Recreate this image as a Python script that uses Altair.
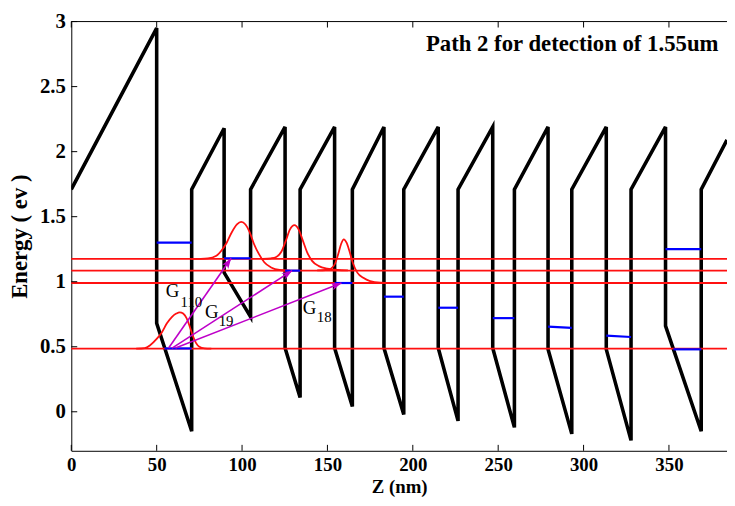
import math
import altair as alt
import pandas as pd

# ---------------- data ----------------
# conduction-band profile (z in nm, energy in eV)
profile_z = [0, 50, 50, 70.5, 70.5, 89.5, 89.5, 105, 105, 125.2, 125.2, 134, 134,
             154.2, 154.2, 164.6, 164.6, 183.1, 183.1, 194.7, 194.7, 214.9, 214.9,
             226.5, 226.5, 246.8, 246.8, 259.5, 259.5, 279.2, 279.2, 293.1, 293.1,
             313.3, 313.3, 327.8, 327.8, 348, 348, 368.9, 368.9, 384]
profile_e = [1.71, 2.95, 0.68, -0.15, 1.71, 2.18, 1.07, 0.73, 1.71, 2.19, 0.49, 0.11, 1.71,
             2.19, 0.49, 0.04, 1.71, 2.19, 0.49, -0.02, 1.71, 2.19, 0.49,
             -0.07, 1.71, 2.19, 0.49, -0.12, 1.71, 2.19, 0.48, -0.17, 1.71,
             2.19, 0.48, -0.22, 1.71, 2.19, 0.66, -0.15, 1.71, 2.09]

# blue energy levels inside wells
level_z1 = [50, 54.6, 89.5, 125.2, 154.2, 183.1, 214.9, 246.8, 279.2, 313.3, 348, 352.6]
level_z2 = [70.5, 70.5, 105, 134, 164.6, 194.7, 226.5, 259.5, 293.1, 327.8, 368.9, 368.9]
level_e1 = [1.30, 0.487, 1.18, 1.085, 0.99, 0.885, 0.80, 0.72, 0.655, 0.585, 1.25, 0.48]
level_e2 = [1.30, 0.487, 1.18, 1.085, 0.99, 0.885, 0.80, 0.72, 0.645, 0.575, 1.25, 0.48]

# red horizontal state lines
state_e = [1.175, 1.085, 0.99, 0.485]

# red wavefunction curves
ground_z = [38, 43, 46, 50, 53, 56, 59, 61.5, 63.5, 65.5, 67.5, 69.5, 71, 73, 75, 78, 82]
ground_e = [0.485, 0.49, 0.51, 0.56, 0.61, 0.68, 0.73, 0.755, 0.765, 0.755, 0.72, 0.65,
            0.59, 0.53, 0.50, 0.488, 0.485]
wa_z = [70, 80, 85, 88, 91, 94, 97, 99.5, 102, 104.5, 107, 110, 113, 117, 122, 128]
wa_e = [1.175, 1.18, 1.20, 1.24, 1.30, 1.38, 1.44, 1.46, 1.44, 1.38, 1.29, 1.21, 1.15,
        1.11, 1.09, 1.085]
wb_z = [112, 117, 120, 123, 125.5, 128, 130.7, 133.2, 135.5, 138, 141, 145, 150, 156, 162]
wb_e = [1.175, 1.18, 1.19, 1.23, 1.31, 1.40, 1.435, 1.40, 1.32, 1.23, 1.16, 1.12, 1.10,
        1.09, 1.087]
wc_z = [144, 149, 152, 154.5, 156.5, 158, 159.6, 161.2, 163, 165, 167.5, 171, 175, 181, 188]
wc_e = [1.087, 1.09, 1.10, 1.14, 1.22, 1.29, 1.326, 1.30, 1.23, 1.14, 1.07, 1.03, 1.005,
        0.993, 0.99]

# transitions (arrows)
arrow_z1 = [57, 59, 61]
arrow_e1 = [0.49, 0.49, 0.49]
arrow_z2 = [93.6, 129.3, 158.2]
arrow_e2 = [1.18, 1.085, 0.99]

# labels
g_z = [59.3, 82.2, 139.5]
g_e = [0.93, 0.77, 0.80]
sub_z = [64.0, 86.3, 143.8]
sub_e = [0.84, 0.70, 0.725]
sub_txt = ["110", "19", "18"]

title_txt = "Path 2 for detection of 1.55um"
x_ticks = [0, 50, 100, 150, 200, 250, 300, 350]
y_ticks = [0, 0.5, 1, 1.5, 2, 2.5, 3]

# ---------------- layout / styles ----------------
W, H = 663, 434
XMAX, YMIN, YMAX = 384, -0.3, 3.0
FONT = "Liberation Serif"
MAG = "#BE00C8"

xs = alt.Scale(domain=[0, XMAX], nice=False, zero=False)
ys = alt.Scale(domain=[YMIN, YMAX], nice=False, zero=False)

x_axis = alt.Axis(values=x_ticks, ticks=False, grid=False, labelFlush=False,
                  labelFont=FONT, labelFontSize=19, labelFontWeight="bold",
                  labelColor="black", labelPadding=5, domainColor="black",
                  titleFont=FONT, titleFontSize=19, titleFontWeight="bold",
                  titleColor="black", titleX=W / 2, titleY=42,
                  titleBaseline="alphabetic", titleAlign="center")
y_axis = alt.Axis(values=y_ticks, format=".1~f", ticks=False, grid=False,
                  labelFont=FONT, labelFontSize=21, labelFontWeight="bold",
                  labelColor="black", labelPadding=6, domainColor="black",
                  titleFont=FONT, titleFontSize=23, titleFontWeight="bold",
                  titleColor="black", titleAngle=270, titleX=-52, titleY=H / 2,
                  titleBaseline="middle", titleAlign="center")


def X(f):
    return alt.X(f, type="quantitative", scale=xs, axis=x_axis, title="Z (nm)")


def Y(f):
    return alt.Y(f, type="quantitative", scale=ys, axis=y_axis, title="Energy ( ev )")


prof = pd.DataFrame({"z": profile_z, "e": profile_e, "i": range(len(profile_z))})
profile = alt.Chart(prof).mark_line(color="black", strokeWidth=3.6, clip=True).encode(
    x=X("z"), y=Y("e"), order="i:Q")

states = alt.Chart(pd.DataFrame({"z": [0] * len(state_e), "z2": [XMAX] * len(state_e),
                                 "e": state_e})).mark_rule(color="#FF1010", strokeWidth=1.8).encode(
    x=X("z"), x2="z2", y=Y("e"))

rows = []
for name, zz, ee in [("g", ground_z, ground_e), ("a", wa_z, wa_e),
                     ("b", wb_z, wb_e), ("c", wc_z, wc_e)]:
    for k, (a, b) in enumerate(zip(zz, ee)):
        rows.append({"z": a, "e": b, "c": name, "i": k})
waves = alt.Chart(pd.DataFrame(rows)).mark_line(
    color="#FF1010", strokeWidth=1.8, interpolate="monotone").encode(
    x=X("z"), y=Y("e"), detail="c:N", order="i:Q")

levels = alt.Chart(pd.DataFrame({"z": level_z1, "z2": level_z2, "e": level_e1,
                                 "e2": level_e2})).mark_rule(color="#0000FF", strokeWidth=2.2).encode(
    x=X("z"), x2="z2", y=Y("e"), y2="e2")

sx, sy = W / XMAX, H / (YMAX - YMIN)
angs = [math.degrees(math.atan2(-(e2 - e1) * sy, (z2 - z1) * sx)) % 360
        for z1, e1, z2, e2 in zip(arrow_z1, arrow_e1, arrow_z2, arrow_e2)]
adf = pd.DataFrame({"z": arrow_z1, "e": arrow_e1, "z2": arrow_z2, "e2": arrow_e2, "ang": angs})
arrow_lines = alt.Chart(adf).mark_rule(color=MAG, strokeWidth=1.6).encode(
    x=X("z"), y=Y("e"), x2="z2", y2="e2")
arrow_heads = alt.Chart(adf).mark_point(
    shape="M0,0L-1,-0.36L-0.75,0L-1,0.36Z", filled=True, size=440, color=MAG, opacity=1).encode(
    x=X("z2"), y=Y("e2"), angle=alt.Angle("ang:Q", scale=None))

g_text = alt.Chart(pd.DataFrame({"z": g_z, "e": g_e, "t": ["G"] * 3})).mark_text(
    font=FONT, fontSize=19, color="black", align="center", baseline="middle").encode(
    x=X("z"), y=Y("e"), text="t:N")
sub_text = alt.Chart(pd.DataFrame({"z": sub_z, "e": sub_e, "t": sub_txt})).mark_text(
    font=FONT, fontSize=15, color="black", align="left", baseline="middle").encode(
    x=X("z"), y=Y("e"), text="t:N")

title = alt.Chart(pd.DataFrame({"z": [379], "e": [2.825], "t": [title_txt]})).mark_text(
    font=FONT, fontSize=23, fontWeight="bold", color="black", align="right",
    baseline="middle").encode(x=X("z"), y=Y("e"), text="t:N")

xt = pd.DataFrame({"t": x_ticks})
yt = pd.DataFrame({"t": y_ticks})
tick_b = alt.Chart(xt).mark_rule(color="black", strokeWidth=1).encode(
    x=X("t"), y=alt.value(H), y2=alt.value(H - 6))
tick_t = alt.Chart(xt).mark_rule(color="black", strokeWidth=1).encode(
    x=X("t"), y=alt.value(0), y2=alt.value(6))
tick_l = alt.Chart(yt).mark_rule(color="black", strokeWidth=1).encode(
    y=Y("t"), x=alt.value(0), x2=alt.value(6))
top_border = alt.Chart(pd.DataFrame({"t": [0]})).mark_rule(color="black", strokeWidth=1).encode(
    x=alt.value(0), x2=alt.value(W), y=alt.value(0))

chart = alt.layer(
    profile, states, waves, levels, arrow_lines, arrow_heads,
    g_text, sub_text, title, tick_b, tick_t, tick_l, top_border
).properties(
    width=W, height=H,
    autosize=alt.AutoSizeParams(type="none"),
    padding={"left": 64, "top": 11, "right": 0, "bottom": 45},
).configure_view(stroke=None)

chart.save("out.html", embed_options={"renderer": "svg", "actions": False})
